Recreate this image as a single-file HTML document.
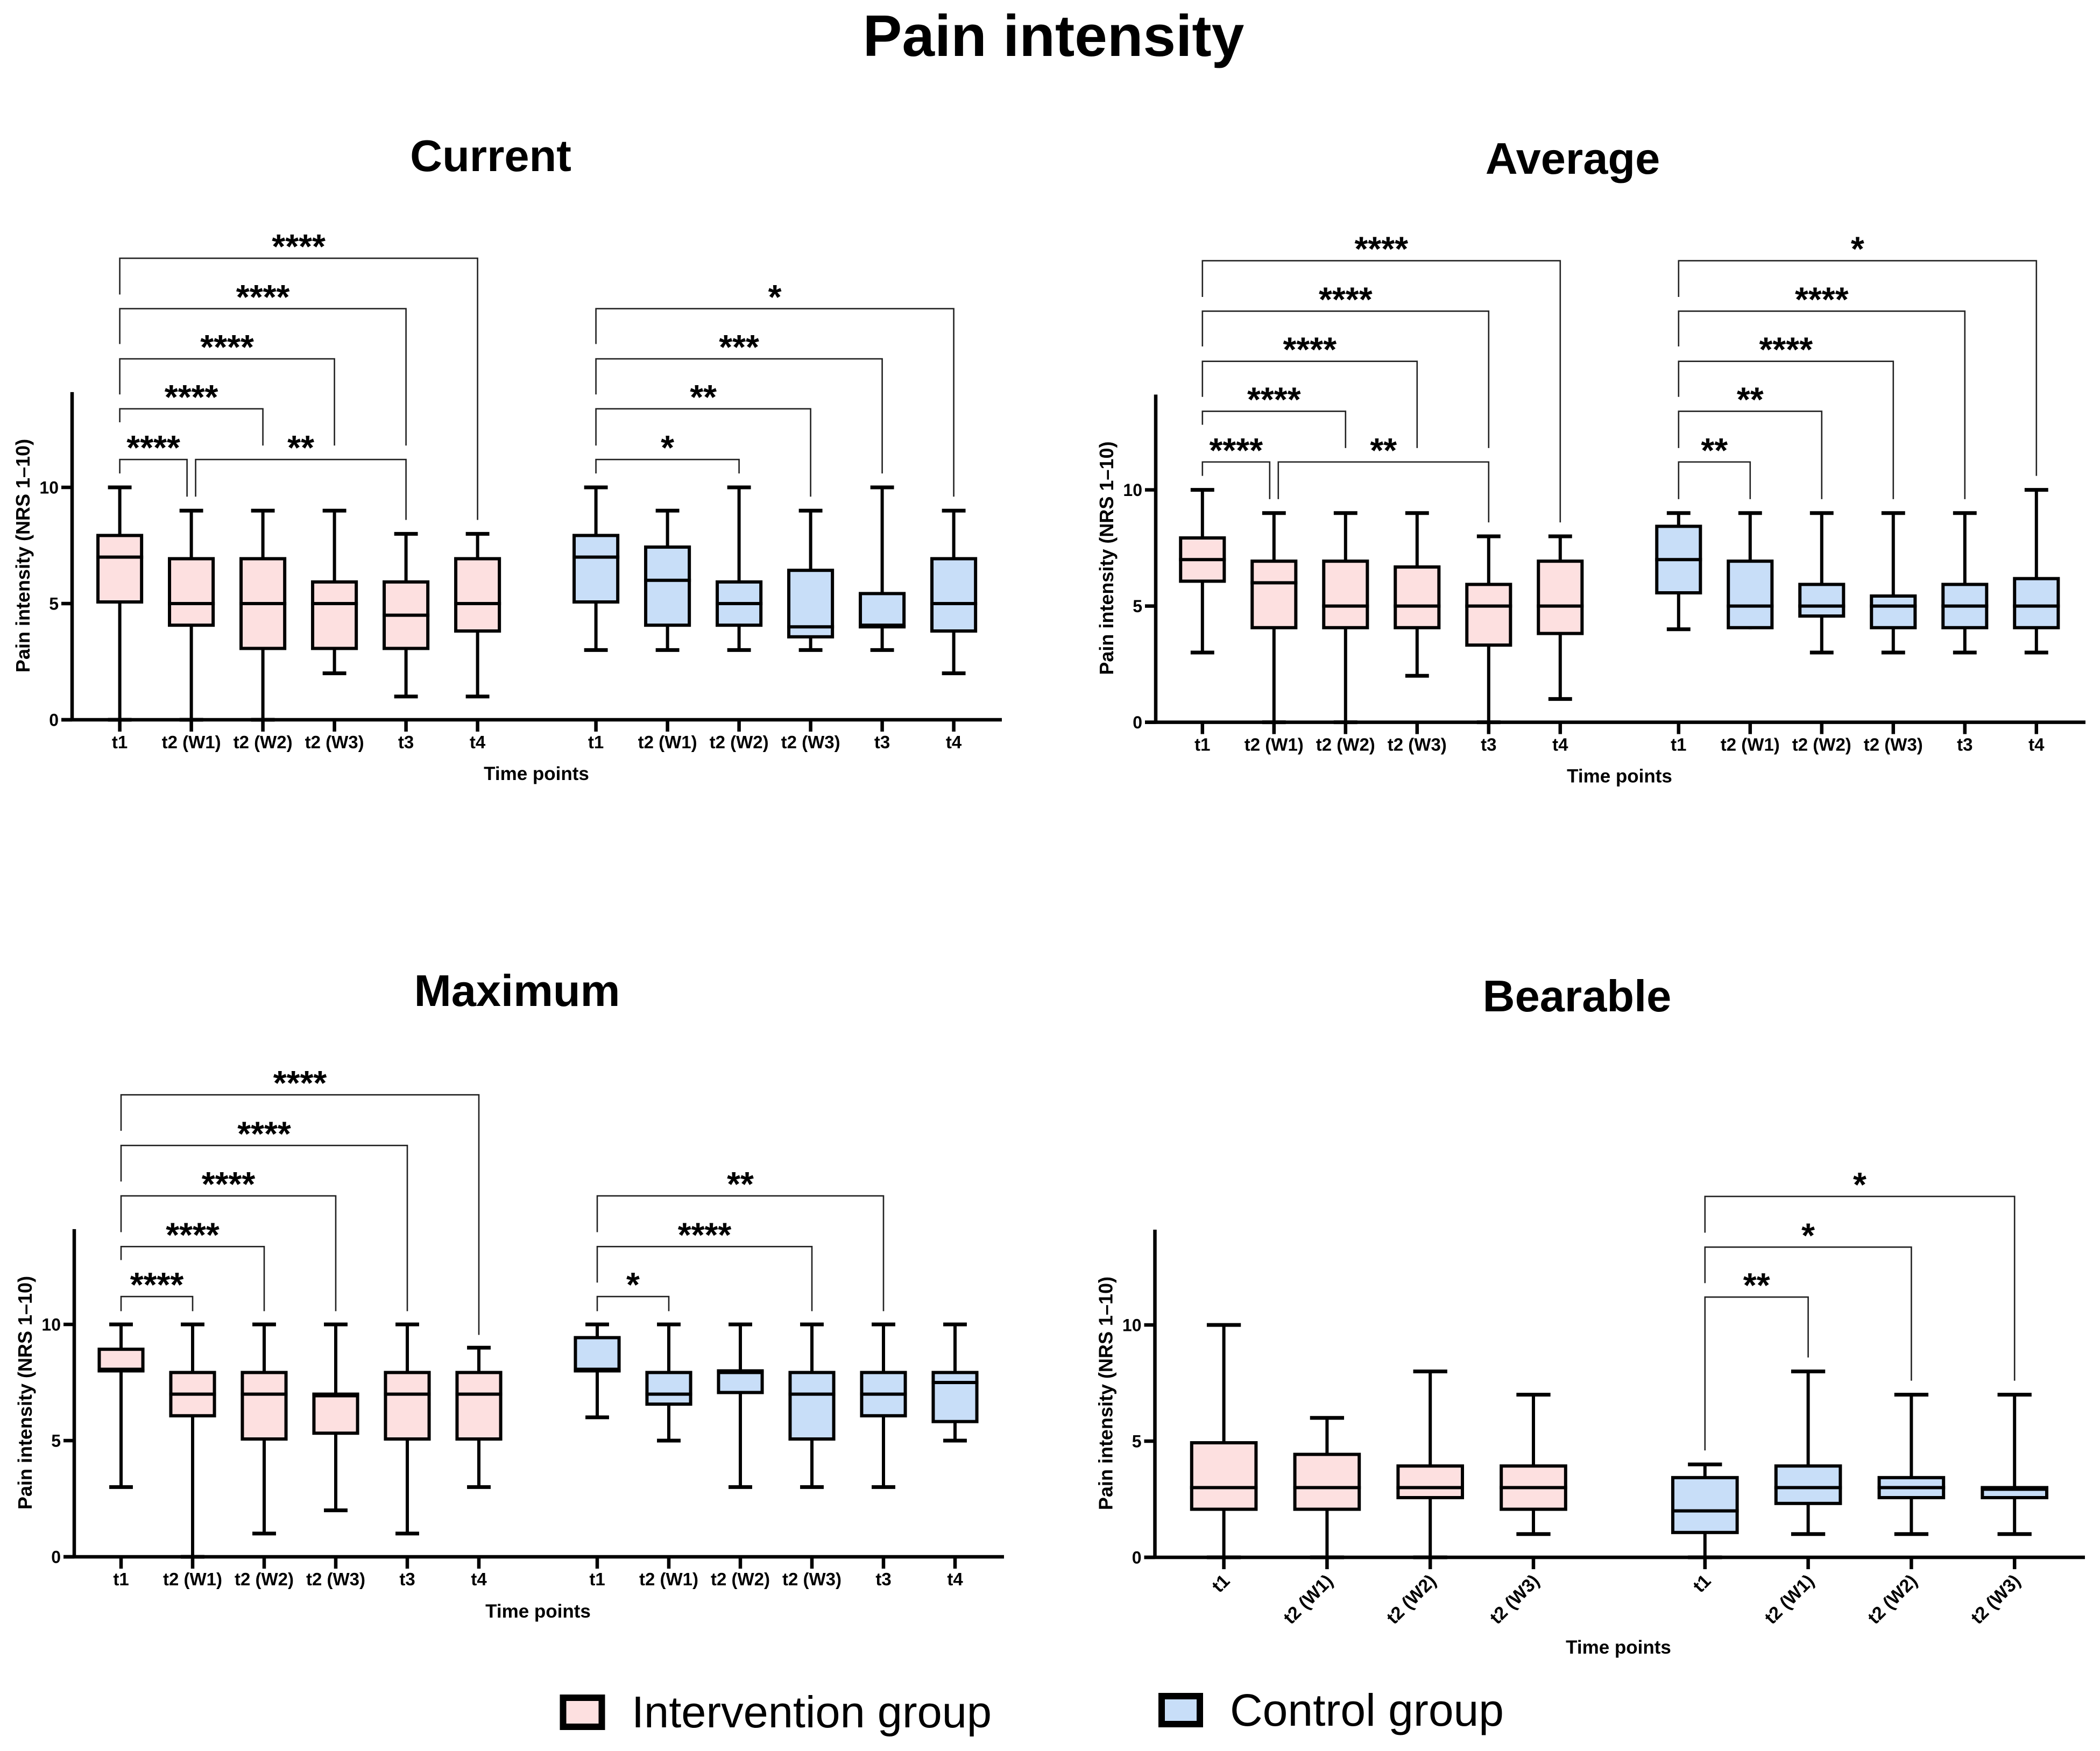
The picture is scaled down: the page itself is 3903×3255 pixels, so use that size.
<!DOCTYPE html>
<html lang="en">
<head>
<meta charset="utf-8">
<title>Pain intensity</title>
<style>
html,body{margin:0;padding:0;background:#fff;}
svg{display:block;}
text{font-family:"Liberation Sans",sans-serif;fill:#000;}
</style>
</head>
<body>
<svg id="figure" xmlns="http://www.w3.org/2000/svg" width="3903" height="3255" viewBox="0 0 3903 3255">
  <rect x="0" y="0" width="3903" height="3255" fill="#ffffff"/>
  <text x="1958" y="104" font-size="109" font-weight="700" text-anchor="middle">Pain intensity</text>
  <g>
    <rect x="1046.5" y="3156" width="72" height="54" fill="#fde0e0" stroke="#000" stroke-width="12"/>
    <text x="1174" y="3211" font-size="83">Intervention group</text>
  </g>
  <g>
    <rect x="2159" y="3153" width="71" height="52" fill="#c8def8" stroke="#000" stroke-width="12"/>
    <text x="2286" y="3208" font-size="84">Control group</text>
  </g>
</svg>
<script>
// Category labels
const sixTimeLabels = ["t1","t2 (W1)","t2 (W2)","t2 (W3)","t3","t4"];
const fourTimeLabels = ["t1","t2 (W1)","t2 (W2)","t2 (W3)"];
const yTicks = [0,5,10];
const yAxisMax = 14.1;

// Box summaries: [min, q1, median, q3, max]
const currentIntervention = [[0,5,7,8,10],[0,4,5,7,9],[0,3,5,7,9],[2,3,5,6,9],[1,3,4.5,6,8],[1,3.75,5,7,8]];
const currentControl = [[3,5,7,8,10],[3,4,6,7.5,9],[3,4,5,6,10],[3,3.5,4,6.5,9],[3,4,4,5.5,10],[2,3.75,5,7,9]];
const averageIntervention = [[3,6,7,8,10],[0,4,6,7,9],[0,4,5,7,9],[2,4,5,6.75,9],[0,3.25,5,6,8],[1,3.75,5,7,8]];
const averageControl = [[4,5.5,7,8.5,9],[4,4,5,7,9],[3,4.5,5,6,9],[3,4,5,5.5,9],[3,4,5,6,9],[3,4,5,6.25,10]];
const maximumIntervention = [[3,8,8,9,10],[0,6,7,8,10],[1,5,7,8,10],[2,5.25,7,7,10],[1,5,7,8,10],[3,5,7,8,9]];
const maximumControl = [[6,8,8,9.5,10],[5,6.5,7,8,10],[3,7,8,8,10],[3,5,7,8,10],[3,6,7,8,10],[5,5.75,7.5,8,10]];
const bearableIntervention = [[0,2,3,5,10],[0,2,3,4.5,6],[0,2.5,3,4,8],[1,2,3,4,7]];
const bearableControl = [[0,1,2,3.5,4],[1,2.25,3,4,8],[1,2.5,3,3.5,7],[1,2.5,3,3,7]];

// Significance brackets in category index / axis units:
// [from, to, level, leftLegEnd, rightLegEnd, stars]
const currentBrackets = [
  [0,5,19.86,18.3,8.6,"****"],[0,4,17.69,16.17,11.8,"****"],[0,3,15.53,14,11.8,"****"],
  [0,2,13.38,12.8,11.8,"****"],[0,0.94,11.2,10.6,9.6,"****"],[1.06,4,11.2,9.6,8.6,"**"],
  [6,11,17.69,16.17,9.6,"*"],[6,10,15.53,14,10.6,"***"],[6,9,13.38,11.8,9.6,"**"],[6,8,11.2,10.6,10.6,"*"]
];
const averageBrackets = [
  [0,5,19.86,18.3,8.6,"****"],[0,4,17.69,16.17,11.8,"****"],[0,3,15.53,14,11.8,"****"],
  [0,2,13.38,12.8,11.8,"****"],[0,0.94,11.2,10.6,9.6,"****"],[1.06,4,11.2,9.6,8.6,"**"],
  [6,11,19.86,18.3,10.6,"*"],[6,10,17.69,16.17,9.6,"****"],[6,9,15.53,14,9.6,"****"],
  [6,8,13.38,11.8,9.6,"**"],[6,7,11.2,9.6,9.6,"**"]
];
const maximumBrackets = [
  [0,5,19.88,18.33,9.55,"****"],[0,4,17.7,16.15,10.57,"****"],[0,3,15.53,13.97,10.57,"****"],
  [0,2,13.35,12.77,10.57,"****"],[0,1,11.2,10.57,10.57,"****"],
  [6,10,15.53,13.97,10.57,"**"],[6,9,13.35,11.8,10.57,"****"],[6,7,11.2,10.57,10.57,"*"]
];
const bearableBrackets = [
  [4,7,15.53,13.97,7.6,"*"],[4,6,13.35,11.8,7.6,"*"],[4,5,11.2,4.6,8.6,"**"]
];

const panels = [
  {key:"current",title:"Current",tx:912,ty:318,left:134,right:1862,x0:222.6,step:133,gap:87,y0:1338,unit:43.2,txc:997,tby:1450,rot:false,labels:sixTimeLabels,a:currentIntervention,b:currentControl,brackets:currentBrackets},
  {key:"average",title:"Average",tx:2923,ty:323,left:2148,right:3876,x0:2234.8,step:133,gap:87,y0:1342.6,unit:43.2,txc:3010,tby:1454.6,rot:false,labels:sixTimeLabels,a:averageIntervention,b:averageControl,brackets:averageBrackets},
  {key:"maximum",title:"Maximum",tx:961,ty:1870,left:138,right:1866,x0:225,step:133,gap:87,y0:2894,unit:43.2,txc:1000,tby:3007,rot:false,labels:sixTimeLabels,a:maximumIntervention,b:maximumControl,brackets:maximumBrackets},
  {key:"bearable",title:"Bearable",tx:2931,ty:1880,left:2146.5,right:3875,x0:2274.6,step:191.8,gap:127,y0:2895,unit:43.2,txc:3008,tby:3074,rot:true,labels:fourTimeLabels,a:bearableIntervention,b:bearableControl,brackets:bearableBrackets}
];

const svgNS = "http://www.w3.org/2000/svg";
const fig = document.getElementById("figure");

function mk(tag, parent, attrs) {
  const el = document.createElementNS(svgNS, tag);
  for (const k in attrs) el.setAttribute(k, attrs[k]);
  parent.appendChild(el);
  return el;
}

function drawLine(parent, name, x1, y1, x2, y2, w, color) {
  const el = mk("line", parent, {x1:x1, y1:y1, x2:x2, y2:y2, stroke:color || "#000", "stroke-width":w});
  
  
  return el;
}

function drawText(parent, name, x, y, size, weight, anchor, str, transform) {
  const el = mk("text", parent, {x:x, y:y, "font-size":size, "font-weight":weight, "text-anchor":anchor});
  if (transform) el.setAttribute("transform", transform);
  
  
  el.textContent = str;
  return el;
}

function drawPanel(p) {
  const n = p.labels.length;
  const xScale = function (i) { return p.x0 + p.step * i + (i >= n ? p.gap : 0); };
  const yScale = function (v) { return p.y0 - p.unit * v; };
  const boxOuter = p.step * 0.655;
  const capW = p.step * 0.33;
  const sw = 6;

  const g = mk("g", fig, {});
  
  

  drawText(g, p.key + '-title', p.tx, p.ty, 83, 700, "middle", p.title);

  // boxes: the outer edge of the stroke sits on the quartile value
  [[p.a, "#fde0e0", "intervention", 0], [p.b, "#c8def8", "control", n]].forEach(function (grp) {
    grp[0].forEach(function (d, j) {
      const cx = xScale(j + grp[3]);
      const bg = mk("g", g, {});
      
      
      drawLine(bg, 'whisker', cx, yScale(d[0]), cx, yScale(d[4]), 6);
      if (d[0] < d[1]) {
        drawLine(bg, 'whisker-cap-low', cx - capW / 2, yScale(d[0]), cx + capW / 2, yScale(d[0]), 7);
      }
      drawLine(bg, 'whisker-cap-high', cx - capW / 2, yScale(d[4]), cx + capW / 2, yScale(d[4]), 7);
      const top = yScale(d[3]) + sw / 2;
      const bottom = yScale(d[1]) - sw / 2;
      const r = mk("rect", bg, {x:cx - boxOuter / 2 + sw / 2, y:top, width:boxOuter - sw, height:Math.max(0, bottom - top), fill:grp[1], stroke:"#000", "stroke-width":sw});
      
      
      drawLine(bg, 'median-line', cx - boxOuter / 2, yScale(d[2]), cx + boxOuter / 2, yScale(d[2]), sw);
    });
  });

  // axes
  drawLine(g, p.key + '-y-axis', p.left, yScale(yAxisMax), p.left, p.y0 + 3, 6.5);
  drawLine(g, p.key + '-x-axis', p.left - 20, p.y0, p.right, p.y0, 6.5);
  yTicks.forEach(function (v) {
    drawLine(g, p.key + '-y-tick', p.left - 20, yScale(v), p.left, yScale(v), 6.5);
    drawText(g, p.key + '-y-tick-label', p.left - 25, yScale(v) + 11.5, 32, 700, "end", String(v));
  });
  const allLabels = p.labels.concat(p.labels);
  allLabels.forEach(function (lab, i) {
    const x = xScale(i);
    drawLine(g, p.key + '-x-tick', x, p.y0, x, p.y0 + 22, 6.5);
    if (p.rot) {
      const ax = x + 13, ay = p.y0 + 46;
      drawText(g, p.key + '-x-tick-label', ax, ay, 34, 700, "end", lab, "rotate(-45 " + ax + " " + ay + ")");
    } else {
      drawText(g, p.key + '-x-tick-label', x, p.y0 + 53, 33, 700, "middle", lab);
    }
  });

  // axis titles
  const yx = p.left - 79, yy = p.y0 - 305;
  drawText(g, p.key + '-y-axis-title', yx, yy, 36, 700, "middle", "Pain intensity (NRS 1\u201310)", "rotate(-90 " + yx + " " + yy + ")");
  drawText(g, p.key + '-x-axis-title', p.txc, p.tby, 35, 700, "middle", "Time points");

  // brackets
  p.brackets.forEach(function (b) {
    const xa = xScale(b[0]), xb = xScale(b[1]);
    const yl = yScale(b[2]);
    const path = mk("path", g, {d:"M" + xa + " " + yScale(b[3]) + "V" + yl + "H" + xb + "V" + yScale(b[4]), fill:"none", stroke:"#222", "stroke-width":2.6});
    
    
    drawText(g, p.key + '-significance-stars', (xa + xb) / 2, yl, 64, 700, "middle", b[5]);
  });
}

panels.forEach(drawPanel);
</script>
</body>
</html>
